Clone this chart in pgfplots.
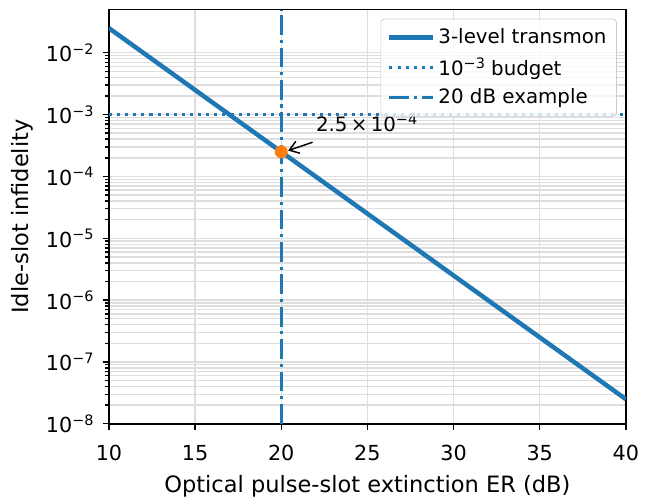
\documentclass[border=0pt]{standalone}
\usepackage{fontspec}
\setmainfont{DejaVu Sans}
\usepackage{pgfplots}
\pgfplotsset{compat=1.18}
\usetikzlibrary{arrows.meta}

\definecolor{tabblue}{HTML}{1F77B4}
\definecolor{taborange}{HTML}{FF7F0E}
\definecolor{gridgray}{HTML}{DEDEDE}
\definecolor{legedge}{HTML}{CCCCCC}

% superscript exponent, mathtext-like
\newcommand\tsup[1]{\raisebox{0.36em}{\fontsize{8}{9}\selectfont #1}}

\begin{document}
\begin{tikzpicture}
\begin{axis}[
    scale only axis,
    width=287pt, height=230pt,
    xmin=10, xmax=40,
    ymode=log, ymin=1e-8, ymax=5e-2,
    xtick={10,15,20,25,30,35,40},
    ytick={1e-8,1e-7,1e-6,1e-5,1e-4,1e-3,1e-2},
    yticklabels={10\tsup{−8},10\tsup{−7},10\tsup{−6},10\tsup{−5},10\tsup{−4},10\tsup{−3},10\tsup{−2}},
    /pgf/number format/assume math mode=true,
    tick label style={font=\fontsize{11.5}{13}\selectfont},
    xticklabel shift=5pt, yticklabel shift=1.5pt,
    label style={font=\fontsize{12.5}{15}\selectfont},
    xlabel={Optical pulse-slot extinction ER (dB)},
    ylabel={Idle-slot infidelity},
    xlabel style={yshift=-1pt},
    xmajorgrids, ymajorgrids, yminorgrids,
    major grid style={gridgray, line width=0.8pt},
    minor grid style={gridgray, line width=0.8pt},
    axis line style={line width=0.9pt},
    tick align=outside,
    xtick pos=left, ytick pos=left,
    major tick length=3.5pt, minor tick length=2pt,
    tick style={black, line width=0.8pt},
    legend cell align=left,
    legend style={at={(rel axis cs:1,1)}, xshift=-5pt, yshift=-5pt, anchor=north east,
        draw=legedge, rounded corners=2pt, fill=white, fill opacity=0.8, text opacity=1,
        font=\fontsize{11}{13}\selectfont, inner sep=3.5pt, row sep=2pt},
    legend image code/.code={\draw[#1] (0pt,0pt) -- (24pt,0pt);},
]
\addplot[tabblue, line width=2.5pt] coordinates {
    (10,2.5e-2) (15,2.5e-3) (20,2.5e-4) (25,2.5e-5) (30,2.5e-6) (35,2.5e-7) (40,2.5e-8)};
\addlegendentry{3-level transmon}
\addplot[tabblue, line width=1.7pt, dash pattern=on 1.7pt off 2.8pt] coordinates {(10,1e-3) (40,1e-3)};
\addlegendentry{10\tsup{−3} budget}
\addplot[tabblue, line width=1.7pt, dash pattern=on 10.9pt off 2.7pt on 1.7pt off 2.7pt] coordinates {(20,1e-8) (20,5e-2)};
\addlegendentry{20 dB example}
\addplot[forget plot, only marks, mark=*, mark size=3.4pt, taborange, mark options={draw=taborange, fill=taborange}] coordinates {(20,2.5e-4)};

\node[anchor=base west, font=\fontsize{11}{13}\selectfont, inner sep=0pt] at (axis cs:22,5.4e-4) {2.5\,×\,10\tsup{−4}};
\draw[-{Straight Barb[length=5pt,width=7pt]}, line width=0.8pt] (axis cs:21.82,3.57e-4) -- (axis cs:20.40,2.62e-4);
\end{axis}
\path ([xshift=-60.5pt,yshift=-39.4pt]current axis.south west) rectangle ([xshift=10.5pt,yshift=5.3pt]current axis.north east);
\end{tikzpicture}
\end{document}
